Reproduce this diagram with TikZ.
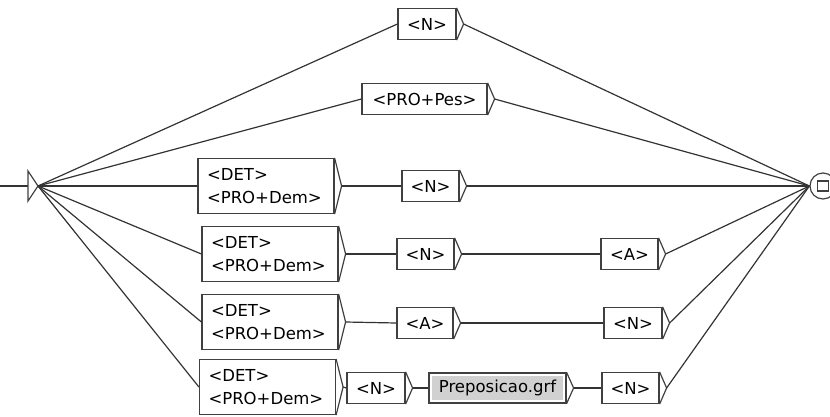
\documentclass[tikz,border=0pt]{standalone}
\usepackage{fontspec}
\setmainfont{DejaVu Sans}
\begin{document}
\begin{tikzpicture}[x=1pt,y=-1pt,
  lin/.style={draw=black!80, line width=1.2pt},
  boxline/.style={draw=black!75, line width=1.2pt},
  bx/.style={rectangle, boxline, inner sep=0pt, minimum height=31pt,
    font=\fontsize{16.5}{23}\selectfont},
  bx2/.style={bx, minimum height=55pt, align=left, inner xsep=9pt,
    text width=118pt, minimum width=136pt},
  grf/.style={bx, path picture={\fill[black!18]
    ([xshift=3pt,yshift=3pt]path picture bounding box.south west) rectangle
    ([xshift=-3pt,yshift=-3pt]path picture bounding box.north east);}},
]
\useasboundingbox (0,0) rectangle (830,416);

% initial state
\coordinate (ini) at (38,186);
\coordinate (inl) at (0,186);
\coordinate (inb) at (28,186);
\draw[lin] (inl) -- (inb);
\draw[boxline] (28,171) -- (ini) -- (28,201) -- cycle;

% final state
\node[circle, boxline, minimum size=26pt, inner sep=0pt] (fin) at (823,186) {};
\node[rectangle, boxline, minimum width=11pt, minimum height=10pt, inner sep=0pt] (fsq) at (fin.center) {};

% boxes
\node[bx, minimum width=58pt] (n1) at (427,24) {<N>};
\node[bx, minimum width=125pt] (p) at (424.5,99) {<PRO+Pes>};

\node[bx2] (det3) at (266,186) {<DET>\\<PRO+Dem>};
\node[bx, minimum width=57pt] (n3) at (430.5,186) {<N>};

\node[bx2] (det4) at (270,254) {<DET>\\<PRO+Dem>};
\node[bx, minimum width=57pt] (n4) at (425.5,254) {<N>};
\node[bx, minimum width=57pt] (a4) at (629.5,254) {<A>};

\node[bx2] (det5) at (270,322) {<DET>\\<PRO+Dem>};
\node[bx, minimum width=56pt] (a5) at (425,323) {<A>};
\node[bx, minimum width=58pt] (n5) at (633,323) {<N>};

\node[bx2] (det6) at (267.5,387) {<DET>\\<PRO+Dem>};
\node[bx, minimum width=58pt] (n6a) at (376,388) {<N>};
\node[grf, minimum width=137pt, minimum height=30pt] (prep) at (497.5,388) {Preposicao.grf};
\node[bx, minimum width=57pt] (n6b) at (630.5,388) {<N>};

% arrow tips of boxes
\foreach \n in {n1,p,det3,n3,det4,n4,a4,det5,a5,n5,det6,n6a,prep,n6b}
  \draw[boxline] (\n.north east) -- ([xshift=7pt]\n.east) coordinate (\n-o) -- (\n.south east);

% connectors
\foreach \n in {n1,p,det3,det4,det5,det6}
  \draw[lin] (ini) -- (\n.west);
\draw[lin] (n1-o) -- (fin.west);
\draw[lin] (p-o) -- (fin.west);
\draw[lin] (det3-o) -- (n3.west);
\draw[lin] (n3-o) -- (fin.west);
\draw[lin] (det4-o) -- (n4.west);
\draw[lin] (n4-o) -- (a4.west);
\draw[lin] (a4-o) -- (fin.west);
\draw[lin] (det5-o) -- (a5.west);
\draw[lin] (a5-o) -- (n5.west);
\draw[lin] (n5-o) -- (fin.west);
\draw[lin] (det6-o) -- (n6a.west);
\draw[lin] (n6a-o) -- (prep.west);
\draw[lin] (prep-o) -- (n6b.west);
\draw[lin] (n6b-o) -- (fin.west);
\end{tikzpicture}
\end{document}
